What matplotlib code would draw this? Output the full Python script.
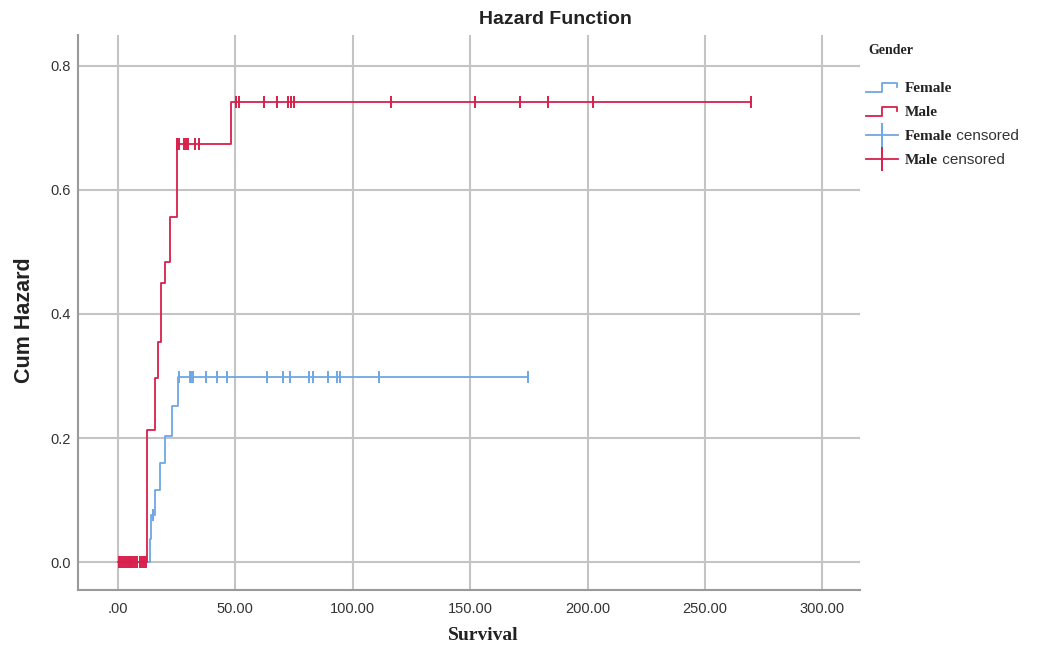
import numpy as np
import matplotlib
matplotlib.use('Agg')
import matplotlib.pyplot as plt
from matplotlib.lines import Line2D
from matplotlib.legend_handler import HandlerBase

# step points of the cumulative hazard (time, value)
female_t = [0, 13.5, 14.2, 16.0, 17.9, 20.0, 22.9, 25.7]
female_h = [0, 0.038, 0.076, 0.116, 0.159, 0.204, 0.252, 0.299]
female_end = 174.7
female_cens = [15.0, 26.0, 30.8, 31.3, 32.0, 37.5, 42.4, 46.4, 63.5, 70.2,
               73.4, 81.3, 83.3, 89.5, 93.4, 94.4, 111.2, 174.7]

male_t = [0, 12.3, 16.0, 17.1, 18.2, 20.0, 22.1, 25.0, 48.0]
male_h = [0, 0.213, 0.297, 0.355, 0.45, 0.484, 0.556, 0.674, 0.742]
male_end = 269.6
male_cens = [0.3, 1.0, 1.8, 2.5, 3.4, 4.2, 5.0, 5.7, 6.5, 7.4, 8.3, 9.2, 10.1,
             11.0, 11.9, 25.0, 26.1, 28.1, 28.9, 29.9, 32.7, 34.6, 50.5, 51.5,
             62.4, 67.6, 72.6, 73.9, 75.0, 116.2, 152.0, 171.2, 183.3, 202.2,
             269.6]

xticks = [0, 50, 100, 150, 200, 250, 300]
xticklabels = ['.00', '50.00', '100.00', '150.00', '200.00', '250.00', '300.00']
yticks = [0.0, 0.2, 0.4, 0.6, 0.8]
yticklabels = ['0.0', '0.2', '0.4', '0.6', '0.8']

c_f = '#6ea6e6'
c_m = '#d8204c'
grid_c = '#c4c4c4'

sans = ['Liberation Sans', 'DejaVu Sans']
serif = ['Liberation Serif', 'DejaVu Serif']


def step_value(t, h, x):
    idx = np.searchsorted(t, x, side='right') - 1
    return np.array(h)[idx]


class StepHandler(HandlerBase):
    def create_artists(self, legend, orig_handle, xdescent, ydescent,
                       width, height, fontsize, trans):
        x0, y0 = -xdescent, -ydescent
        xs = [x0, x0 + 0.5 * width, x0 + 0.5 * width, x0 + 0.97 * width, x0 + 0.97 * width]
        ys = [y0 - 0.05 * height, y0 - 0.05 * height, y0 + 0.85 * height,
              y0 + 0.85 * height, y0 + 0.45 * height]
        ln = Line2D(xs, ys, color=orig_handle.get_color(),
                    lw=orig_handle.get_linewidth())
        ln.set_transform(trans)
        return [ln]


fig = plt.figure(figsize=(10.37, 6.47), dpi=100)
ax = fig.add_axes([0.0752, 0.0881, 0.754, 0.858])

ft = np.array(female_t + [female_end])
fh = np.array(female_h + [female_h[-1]])
mt = np.array(male_t + [male_end])
mh = np.array(male_h + [male_h[-1]])

lf, = ax.step(ft, fh, where='post', color=c_f, lw=1.3, zorder=3)
lm, = ax.step(mt, mh, where='post', color=c_m, lw=1.3, zorder=4)
ax.plot(female_cens, step_value(female_t, female_h, female_cens), ls='none',
        marker='|', ms=9, mew=1.4, color=c_f, zorder=3)
ax.plot(male_cens, step_value(male_t, male_h, male_cens), ls='none',
        marker='|', ms=9, mew=1.4, color=c_m, zorder=4)

ax.set_xlim(-17, 316)
ax.set_ylim(-0.045, 0.85)
ax.set_xticks(xticks)
ax.set_xticklabels(xticklabels, family=sans, fontsize=10.5, color='#333333')
ax.set_yticks(yticks)
ax.set_yticklabels(yticklabels, family=sans, fontsize=10.5, color='#333333')
ax.tick_params(length=0)
ax.tick_params(axis='x', pad=9)
ax.tick_params(axis='y', pad=5)
ax.grid(True, color=grid_c, lw=1.5)
ax.set_axisbelow(True)
for s in ['top', 'right']:
    ax.spines[s].set_visible(False)
for s in ['left', 'bottom']:
    ax.spines[s].set_color('#9a9a9a')
    ax.spines[s].set_linewidth(1.5)

fig.text(555 / 1037, 1 - 19 / 647, 'Hazard Function', ha='center', va='center',
         family=sans, fontsize=14, weight='bold', color='#222222')
fig.text(483 / 1037, 1 - 636 / 647, 'Survival', ha='center', va='center',
         family=serif, fontsize=14, weight='bold', color='#222222')
fig.text(25 / 1037, 1 - 320 / 647, 'Cum Hazard', ha='center', va='center',
         rotation=90, family=sans, fontsize=15.5, weight='bold', color='#222222')
fig.text(868 / 1037, 1 - 50 / 647, 'Gender', ha='left', va='center',
         family=serif, fontsize=10, weight='bold', color='#222222')

hf_c = Line2D([], [], color=c_f, lw=1.3, marker='|', ms=17, mew=1.4)
hm_c = Line2D([], [], color=c_m, lw=1.3, marker='|', ms=17, mew=1.4)
leg = fig.legend([lf, lm, hf_c, hm_c], ['Female', 'Male', 'Female', 'Male'],
                 handler_map={lf: StepHandler(), lm: StepHandler()},
                 loc='upper left', bbox_to_anchor=(866 / 1037, 1 - 81 / 647),
                 frameon=False, borderpad=0, borderaxespad=0, numpoints=1,
                 handlelength=2.1, handletextpad=0.45, labelspacing=0.68,
                 prop={'family': serif, 'weight': 'bold', 'size': 11})
for t in leg.get_texts():
    t.set_color('#222222')

fig.canvas.draw()
inv = fig.transFigure.inverted()
for t in leg.get_texts()[2:]:
    bb = t.get_window_extent()
    x, y = inv.transform((bb.x1, (bb.y0 + bb.y1) / 2))
    fig.text(x, y, ' censored', ha='left', va='center',
             family=sans, fontsize=11, color='#333333')

fig.savefig('out.png', dpi=100)
